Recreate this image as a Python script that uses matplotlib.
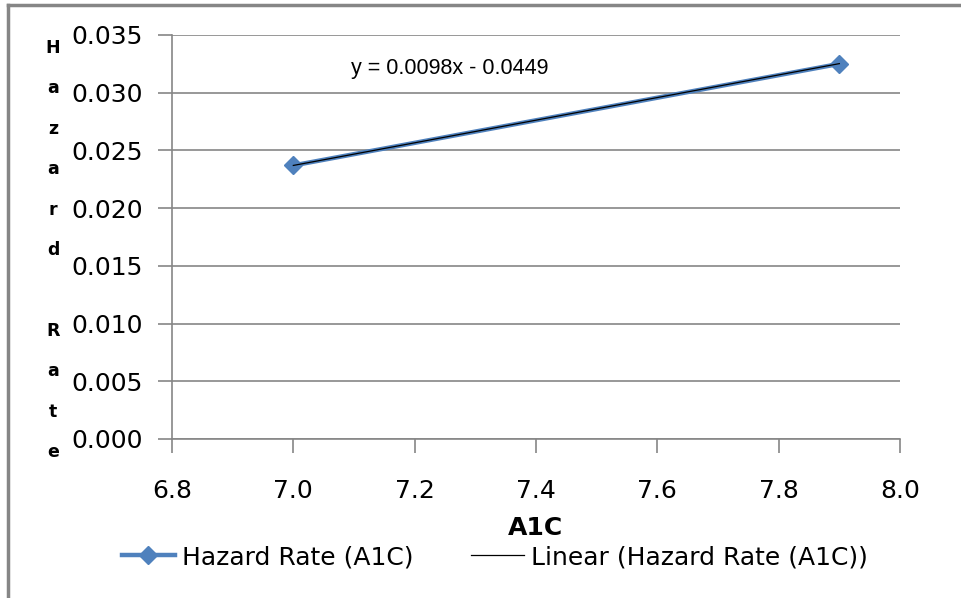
import numpy as np
import matplotlib.pyplot as plt
from matplotlib.lines import Line2D

# data
a1c = [7.0, 7.9]
hazard = [0.0237, 0.0325]
slope, intercept = 0.0098, -0.0449

xticks = [6.8, 7.0, 7.2, 7.4, 7.6, 7.8, 8.0]
yticks = [0.000, 0.005, 0.010, 0.015, 0.020, 0.025, 0.030, 0.035]

grey = '#868686'
blue = '#4F81BD'

plt.rcParams['font.family'] = ['DejaVu Sans']

fig = plt.figure(figsize=(9.62, 5.98), dpi=100)
W, H = 962, 598
ax = fig.add_axes([172 / W, 1 - 439 / H, (900 - 172) / W, (439 - 35) / H])

# data series and linear trendline
ax.plot(a1c, hazard, color=blue, lw=3.2, marker='D', ms=9, mfc=blue, mec=blue,
        solid_capstyle='round', zorder=3)
fx = np.array(a1c)
ax.plot(fx, slope * fx + intercept, color='black', lw=0.9, zorder=4)

ax.set_xlim(6.8, 8.0)
ax.set_ylim(0, 0.035)
ax.set_xticks(xticks)
ax.set_yticks(yticks)
ax.set_xticklabels([f'{v:.1f}' for v in xticks])
ax.set_yticklabels([f'{v:.3f}' for v in yticks])
ax.tick_params(labelsize=18, colors=grey, labelcolor='black', length=10, width=1.2)
ax.tick_params(axis='x', pad=19)
ax.tick_params(axis='y', pad=11)
ax.yaxis.grid(True, color=grey, lw=1.2)
ax.set_axisbelow(True)
for s in ['top', 'right']:
    ax.spines[s].set_visible(False)
for s in ['left', 'bottom']:
    ax.spines[s].set_color(grey)
    ax.spines[s].set_linewidth(1.2)

ax.text(7.258, 0.0321, 'y = 0.0098x - 0.0449', fontsize=15.5, ha='center', va='center',
        family=['Liberation Sans', 'DejaVu Sans'])

ax.set_xlabel('A1C', fontsize=18, fontweight='bold', labelpad=9)

# stacked y label
fig.text(53 / W, 1 - 250 / H, 'H\na\nz\na\nr\nd\n\nR\na\nt\ne', fontsize=12.5,
         fontweight='bold', ha='center', va='center', linespacing=2.6)

handles = [Line2D([], [], color=blue, lw=3.2, marker='D', ms=9),
           Line2D([], [], color='black', lw=0.9)]
fig.legend(handles, ['Hazard Rate (A1C)', 'Linear (Hazard Rate (A1C))'],
           loc='center', bbox_to_anchor=(495 / W, 1 - 557 / H), ncol=2, frameon=False,
           fontsize=18, handlelength=2.1, handletextpad=0.3, columnspacing=2.3)

# outer chart border (left and top only visible)
fig.add_artist(Line2D([8 / W, 8 / W], [0, 1 - 5 / H], color=grey, lw=2.5))
fig.add_artist(Line2D([8 / W, 1], [1 - 5 / H, 1 - 5 / H], color=grey, lw=2.5))

fig.savefig('out.png', dpi=100)
